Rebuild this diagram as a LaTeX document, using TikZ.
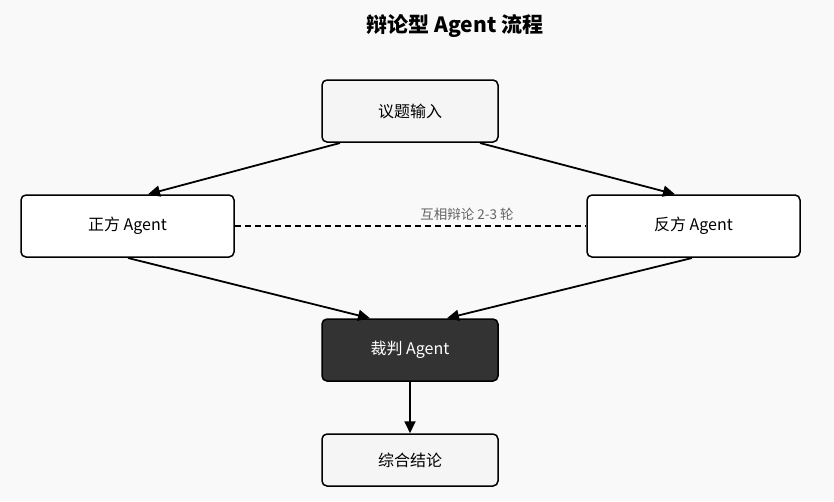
\documentclass[tikz,border=0pt]{standalone}
\usepackage{fontspec}
\setmainfont{Noto Sans CJK SC}
\usetikzlibrary{arrows.meta}
\newcommand{\dn}[1]{\raisebox{-3pt}{#1}}
\begin{document}
\begin{tikzpicture}[x=1pt,y=-1pt,
  box/.style={draw=black,line width=1.5pt,rounded corners=5pt,font=\fontsize{16}{18}\selectfont,inner sep=0pt},
  arr/.style={line width=1.8pt,-{Triangle[length=12pt,width=11pt]}}]
\fill[fill={rgb,255:red,249;green,249;blue,249}] (0,0) rectangle (834,501);
\useasboundingbox (0,0) rectangle (834,501);
\node[font=\fontsize{21}{24}\selectfont\bfseries] (title) at (455,26) {辩论型 Agent 流程};
\node[box,fill={rgb,255:red,245;green,245;blue,245},minimum width=176pt,minimum height=62pt] (in) at (410,111) {\dn{议题输入}};
\node[box,fill=white,minimum width=213pt,minimum height=62pt] (pro) at (127.5,226) {\dn{正方 Agent}};
\node[box,fill=white,minimum width=213pt,minimum height=62pt] (con) at (693.5,226) {\dn{反方 Agent}};
\node[box,fill={rgb,255:red,51;green,51;blue,51},text=white,minimum width=176pt,minimum height=62pt] (judge) at (410,350) {\dn{裁判 Agent}};
\node[box,fill={rgb,255:red,245;green,245;blue,245},minimum width=176pt,minimum height=52pt] (out) at (410,460) {\dn{综合结论}};
\coordinate (a1) at (340,143); \coordinate (a2) at (480,143);
\coordinate (b1) at (128,258); \coordinate (b2) at (692,258);
\draw[arr] (a1) -- (pro.north -| 148,0);
\draw[arr] (a2) -- (con.north -| 675,0);
\draw[arr] (b1) -- (judge.north -| 370,0);
\draw[arr] (b2) -- (judge.north -| 447,0);
\draw[arr] (judge) -- (out);
\draw[line width=1.2pt,dash pattern=on 6pt off 4pt] (pro.east) -- (con.west);
\node[font=\fontsize{13.5}{15}\selectfont,text={rgb,255:red,100;green,100;blue,100}] (lab) at (467,214) {互相辩论 2-3 轮};
\end{tikzpicture}
\end{document}
